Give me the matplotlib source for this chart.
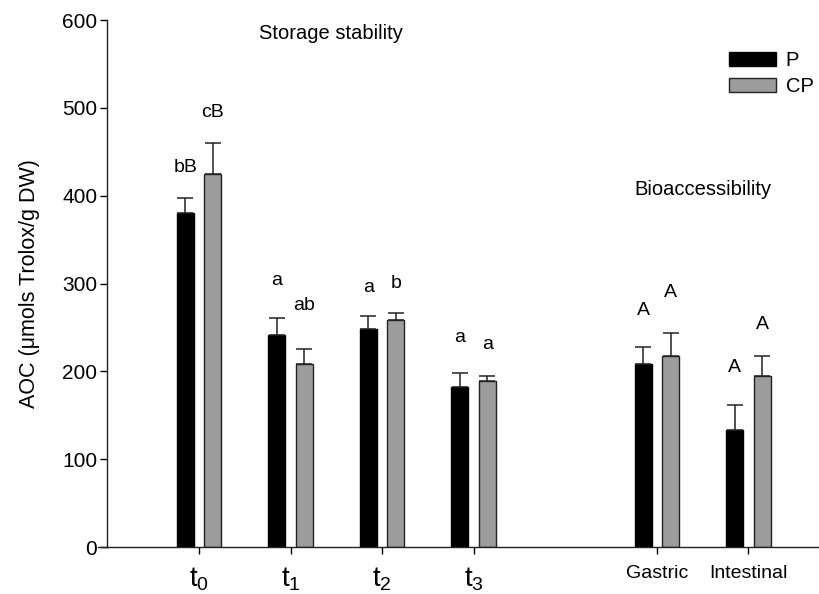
import numpy as np
import matplotlib
matplotlib.use("Agg")
import matplotlib.pyplot as plt

plt.rcParams["font.family"] = ["Liberation Sans", "DejaVu Sans"]
plt.rcParams["mathtext.fontset"] = "custom"
plt.rcParams["mathtext.rm"] = "Liberation Sans"
plt.rcParams["mathtext.it"] = "Liberation Sans"

# podatki
kategorije = ["t$_0$", "t$_1$", "t$_2$", "t$_3$", "Gastric", "Intestinal"]
pozicije = [0, 1, 2, 3, 5, 6]
p_vrednosti = [380, 241, 248, 182, 208, 133]
p_napake = [17, 20, 15, 16, 20, 29]
cp_vrednosti = [425, 208, 258, 189, 218, 195]
cp_napake = [35, 18, 9, 6, 26, 22]
p_oznake = ["bB", "a", "a", "a", "A", "A"]
cp_oznake = ["cB", "ab", "b", "a", "A", "A"]
p_oznake_y = [432, 303, 296, 238, 269, 204]
cp_oznake_y = [495, 275, 300, 231, 290, 253]

fig = plt.figure(figsize=(8.19, 5.94), dpi=100)
ax = fig.add_axes([0.1306, 0.0791, 0.8694, 0.8872])

x = np.array(pozicije, dtype=float)
sirina = 0.185
zamik = 0.15

ax.bar(x - zamik, p_vrednosti, sirina, color="black", edgecolor="black",
       linewidth=1, label="P", zorder=2)
ax.bar(x + zamik, cp_vrednosti, sirina, color="#9c9c9c", edgecolor="#222222",
       linewidth=1, label="CP", zorder=2)

ax.errorbar(x - zamik, p_vrednosti, yerr=[np.zeros(len(x)), p_napake], fmt="none",
            ecolor="#222222", elinewidth=1.1, capsize=5.8, capthick=1.1, zorder=3)
ax.errorbar(x + zamik, cp_vrednosti, yerr=[np.zeros(len(x)), cp_napake], fmt="none",
            ecolor="#222222", elinewidth=1.1, capsize=5.8, capthick=1.1, zorder=3)

for i in range(len(x)):
    ax.text(x[i] - zamik, p_oznake_y[i], p_oznake[i], ha="center", va="center", fontsize=14)
    ax.text(x[i] + zamik, cp_oznake_y[i], cp_oznake[i], ha="center", va="center", fontsize=14)

ax.text(1.44, 585, "Storage stability", ha="center", va="center", fontsize=14.5)
ax.text(5.5, 407, "Bioaccessibility", ha="center", va="center", fontsize=14.5)

ax.set_xlim(-1.004, 6.77)
ax.set_ylim(0, 600)
ax.set_yticks(range(0, 601, 100))
ax.set_xticks(x)
ax.set_xticklabels(kategorije)
for lbl in ax.get_xticklabels()[:4]:
    lbl.set_fontsize(20)
for lbl in ax.get_xticklabels()[4:]:
    lbl.set_fontsize(14)
ax.tick_params(axis="y", direction="out", length=5, width=1, labelsize=15, pad=2)
ax.tick_params(axis="x", direction="out", length=5, width=1, pad=8)
ax.set_ylabel("AOC (\u03bcmols Trolox/g DW)", fontsize=15.5)
ax.yaxis.set_label_coords(-0.094, 0.5)

ax.spines["top"].set_visible(False)
ax.spines["right"].set_visible(False)
for s in ("left", "bottom"):
    ax.spines[s].set_linewidth(1)
    ax.spines[s].set_color("#222222")
# spodnja os malo cez levo os
ax.plot([-0.012, 0], [0, 0], transform=ax.transAxes, clip_on=False, color="#222222", lw=1)

ax.legend(loc="upper right", bbox_to_anchor=(1.012, 0.968), frameon=False, fontsize=14.5,
          handlelength=2.3, handleheight=0.7, labelspacing=0.35, borderaxespad=0.3,
          handletextpad=0.5)

fig.savefig("out.png", dpi=100)
